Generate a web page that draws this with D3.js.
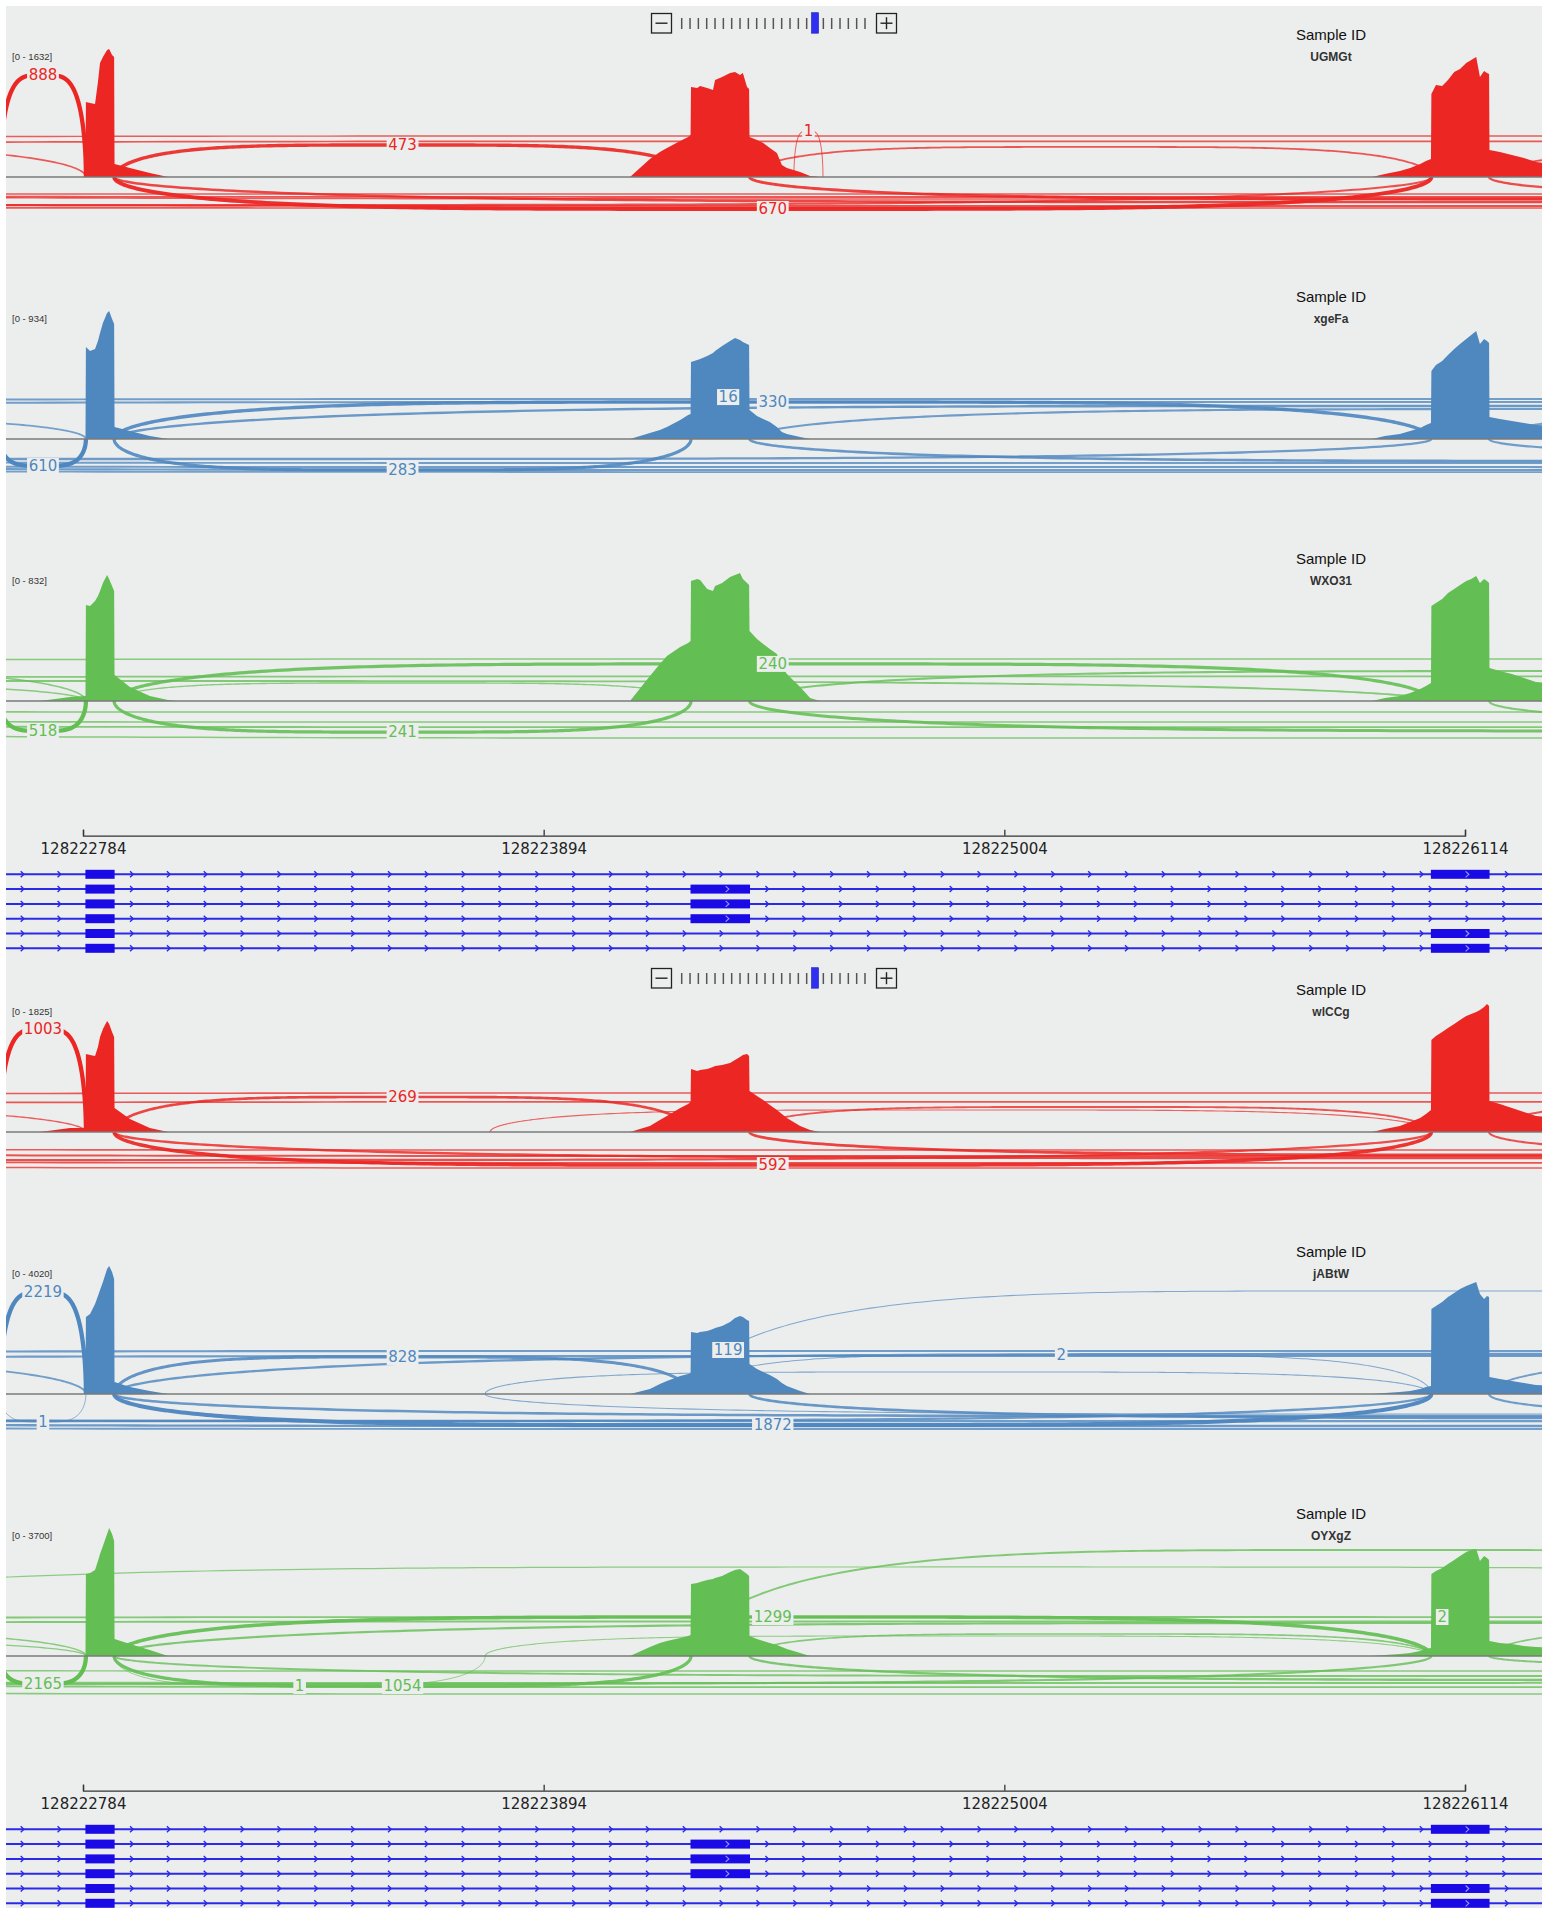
<!DOCTYPE html>
<html>
<head>
<meta charset="utf-8">
<script src="https://cdn.jsdelivr.net/npm/d3@7"></script>
<style>
  html, body { margin: 0; padding: 0; background: #fff; }
  svg { display: block; }
</style>
</head>
<body>
<div id="chart"></div>
<script>
'use strict';

// ---- data ----
var samples = ["UGMGt", "xgeFa", "WXO31", "wlCCg", "jABtW", "OYXgZ"];
var sampleRange = [1632, 934, 832, 1825, 4020, 3700];
var axisTicks = [128222784, 128223894, 128225004, 128226114];
var exons = [[128222791, 128222859], [128224249, 128224390], [128226033, 128226172]];
var transcriptSpan = [128222418, 128227800];
var transcripts = [[0, 2], [0, 1], [0, 1], [0, 1], [0, 2], [0, 2]];
var zoomSteps = 23, zoomCurrent = 16;

var exon1Pos = [128222680, 128222753, 128222790, 128222791, 128222801, 128222813, 128222820, 128222825, 128222832,
  128222842, 128222847, 128222854, 128222859, 128222860, 128222897, 128222945, 128222989, 128223013];
var exon1Cov = [
  [0, 0, 0, 956, 944, 931, 1211, 1454, 1530, 1619, 1632, 1556, 1530, 166, 115, 51, 0, 0],
  [0, 0, 0, 671, 642, 657, 715, 773, 846, 919, 934, 876, 839, 88, 58, 22, 0, 0],
  [0, 26, 33, 624, 618, 650, 683, 715, 767, 819, 793, 748, 715, 169, 91, 33, 7, 0],
  [0, 57, 57, 1112, 1098, 1084, 1212, 1355, 1469, 1583, 1540, 1426, 1355, 342, 185, 57, 0, 0],
  [0, 0, 0, 2419, 2513, 2827, 3078, 3267, 3518, 3926, 4020, 3832, 3612, 377, 220, 94, 0, 0],
  [0, 0, 0, 2371, 2400, 2486, 2746, 2949, 3180, 3527, 3700, 3527, 3325, 491, 347, 173, 0, 0]
];

var exon2Pos = [128224102, 128224150, 128224174, 128224191, 128224223, 128224242, 128224248, 128224249, 128224264,
  128224271, 128224288, 128224302, 128224307, 128224324, 128224343, 128224355, 128224367, 128224374, 128224384,
  128224389, 128224390, 128224408, 128224423, 128224439, 128224456, 128224468, 128224480, 128224512, 128224536, 128224560];
var exon2Cov = [
  [0, 230, 319, 370, 459, 510, 536, 1148, 1135, 1160, 1135, 1109, 1237, 1275, 1326, 1339, 1301, 1326, 1148, 1122, 510, 472, 434, 370, 306, 153, 115, 64, 13, 0],
  [0, 44, 66, 88, 139, 175, 182, 562, 576, 584, 606, 628, 642, 679, 715, 737, 722, 708, 693, 686, 212, 168, 146, 124, 88, 51, 36, 15, 0, 0],
  [0, 163, 241, 293, 351, 377, 390, 780, 793, 787, 728, 715, 748, 767, 806, 819, 832, 793, 767, 754, 455, 403, 371, 338, 306, 228, 176, 91, 20, 0],
  [0, 86, 171, 228, 342, 399, 428, 898, 870, 884, 898, 927, 941, 955, 984, 1027, 1070, 1098, 1112, 1084, 585, 513, 456, 385, 314, 257, 200, 86, 29, 0],
  [0, 157, 314, 408, 565, 628, 660, 1947, 1916, 1947, 1979, 2042, 2073, 2136, 2262, 2387, 2450, 2419, 2324, 2293, 942, 785, 691, 597, 471, 346, 251, 94, 0, 0],
  [0, 260, 376, 434, 520, 578, 607, 2082, 2110, 2139, 2197, 2226, 2255, 2313, 2428, 2486, 2515, 2457, 2371, 2313, 578, 491, 434, 376, 318, 260, 202, 87, 0, 0]
];

var exon3Pos = [128225890, 128225921, 128225957, 128225982, 128226006, 128226020, 128226032, 128226033, 128226044,
  128226059, 128226073, 128226088, 128226102, 128226117, 128226129, 128226141, 128226150, 128226160, 128226167,
  128226172, 128226173, 128226198, 128226227, 128226256, 128226285, 128226343];
var exon3Cov = [
  [0, 38, 77, 115, 166, 204, 230, 1058, 1173, 1160, 1237, 1339, 1377, 1454, 1492, 1530, 1275, 1352, 1326, 1313, 344, 319, 281, 242, 191, 153],
  [0, 22, 36, 58, 80, 102, 117, 496, 540, 569, 613, 657, 693, 730, 759, 788, 693, 730, 715, 701, 161, 146, 131, 117, 102, 95],
  [0, 20, 33, 52, 78, 98, 117, 618, 637, 663, 702, 728, 754, 780, 793, 813, 767, 793, 780, 767, 215, 195, 176, 150, 124, 111],
  [0, 43, 86, 143, 200, 257, 314, 1312, 1369, 1426, 1483, 1540, 1597, 1654, 1683, 1711, 1740, 1783, 1825, 1797, 442, 399, 342, 285, 228, 200],
  [0, 31, 63, 94, 157, 220, 251, 2670, 2764, 2890, 3047, 3172, 3298, 3392, 3455, 3518, 3141, 2984, 3078, 3047, 534, 471, 408, 346, 283, 251],
  [0, 29, 58, 87, 145, 202, 231, 2371, 2457, 2544, 2660, 2775, 2891, 3007, 3064, 3093, 2746, 2891, 2833, 2775, 434, 376, 347, 289, 260, 231]
];

// junctions: [from, to, reads, arc depth (coverage units, negative = below), label shown]
var junctionsUGMGt = [
  [128222584, 128222791, 888, 1300, 1],
  [128222859, 128224249, 473, 408, 1],
  [128224497, 128224567, 1, 586, 1],
  [128222859, 128226033, 670, -408, 1],
  [128224390, 128226033, 60, 383, 0],
  [128219000, 128231000, 20, 523, 0],
  [128219300, 128231300, 50, 455, 0],
  [128220000, 128222791, 40, 420, 0],
  [128226172, 128229000, 80, 383, 0],
  [128219000, 128230000, 30, -217, 0],
  [128220000, 128232000, 25, -280, 0],
  [128218800, 128231800, 60, -255, 0],
  [128219800, 128230500, 90, -370, 0],
  [128222859, 128229500, 200, -319, 0],
  [128224390, 128228500, 300, -280, 0],
  [128226172, 128229000, 150, -230, 0],
  [128219500, 128226033, 100, -357, 0],
  [128218000, 128231500, 40, -395, 0]
];
var junctionsXgeFa = [
  [128222584, 128222791, 610, -197, 1],
  [128222859, 128224249, 283, -226, 1],
  [128224288, 128224389, 16, 306, 1],
  [128222859, 128226033, 330, 270, 1],
  [128219000, 128231000, 60, 292, 0],
  [128219300, 128231300, 70, 270, 0],
  [128220000, 128222791, 40, 168, 0],
  [128222859, 128230000, 120, 241, 0],
  [128224390, 128229000, 80, 219, 0],
  [128226172, 128228500, 60, 182, 0],
  [128219000, 128231000, 50, -175, 0],
  [128218800, 128231800, 60, -205, 0],
  [128219800, 128230500, 80, -226, 0],
  [128218500, 128232000, 40, -241, 0],
  [128224390, 128229500, 150, -161, 0],
  [128219500, 128226033, 100, -146, 0],
  [128226172, 128229000, 80, -109, 0]
];
var junctionsWXO31 = [
  [128222584, 128222791, 518, -195, 1],
  [128222859, 128224249, 241, -202, 1],
  [128222859, 128226033, 240, 241, 1],
  [128220000, 128222791, 20, 221, 0],
  [128219000, 128231000, 15, 273, 0],
  [128219300, 128231300, 30, 160, 0],
  [128219500, 128222791, 15, 124, 0],
  [128222859, 128224249, 10, 117, 0],
  [128224390, 128229000, 60, 195, 0],
  [128219000, 128226033, 40, 130, 0],
  [128219000, 128231500, 20, -72, 0],
  [128218500, 128232000, 20, -137, 0],
  [128218800, 128231800, 40, -170, 0],
  [128220000, 128231000, 15, -241, 0],
  [128224390, 128229500, 200, -195, 0],
  [128226172, 128228500, 60, -117, 0]
];
var junctionsWlCCg = [
  [128222584, 128222791, 1003, 1469, 1],
  [128222859, 128224249, 269, 499, 1],
  [128222859, 128226033, 592, -471, 1],
  [128223765, 128226033, 5, 314, 0],
  [128219000, 128231000, 40, 556, 0],
  [128219300, 128231300, 60, 430, 0],
  [128219500, 128222791, 20, 371, 0],
  [128224390, 128226033, 80, 357, 0],
  [128226172, 128229000, 100, 513, 0],
  [128222859, 128229500, 200, -371, 0],
  [128224390, 128229000, 300, -328, 0],
  [128219500, 128226033, 150, -399, 0],
  [128226172, 128228500, 120, -285, 0],
  [128219000, 128231000, 40, -257, 0],
  [128218800, 128231800, 80, -440, 0],
  [128219800, 128230500, 100, -342, 0],
  [128218500, 128232000, 30, -513, 0]
];
var junctionsJABtW = [
  [128222584, 128222791, 2219, 3204, 1],
  [128222859, 128224249, 828, 1162, 1],
  [128224288, 128224389, 119, 1382, 1],
  [128222584, 128222791, 1, -879, 1],
  [128222859, 128226033, 1872, -974, 1],
  [128224249, 128226033, 2, 1225, 1],
  [128224249, 128227623, 3, 3235, 0],
  [128219000, 128231000, 300, 1351, 0],
  [128219300, 128231300, 300, 1195, 0],
  [128219500, 128222791, 200, 1131, 0],
  [128222859, 128230000, 400, 1256, 0],
  [128223753, 128226033, 5, 691, 0],
  [128223753, 128229000, 5, -628, 0],
  [128224390, 128229500, 600, -754, 0],
  [128219500, 128226033, 400, -848, 0],
  [128226172, 128228500, 300, -628, 0],
  [128218500, 128232000, 200, -1099, 0],
  [128218800, 128231800, 300, -850, 0],
  [128219800, 128230500, 400, -1005, 0],
  [128222859, 128229500, 500, -691, 0],
  [128226172, 128229000, 200, 1194, 0]
];
var junctionsOYXgZ = [
  [128222584, 128222791, 2165, -809, 1],
  [128222859, 128223753, 1, -867, 1],
  [128222859, 128224249, 1054, -867, 1],
  [128222859, 128226033, 1299, 1127, 1],
  [128226033, 128226085, 2, 1127, 1],
  [128224249, 128227623, 200, 3064, 0],
  [128221476, 128228512, 20, 2573, 0],
  [128219000, 128231000, 150, 1127, 0],
  [128219300, 128231300, 200, 1000, 0],
  [128219500, 128222791, 60, 809, 0],
  [128219200, 128222791, 30, 520, 0],
  [128222859, 128230000, 300, 954, 0],
  [128224390, 128226033, 100, 636, 0],
  [128223753, 128226033, 5, 578, 0],
  [128226172, 128228500, 100, 867, 0],
  [128224390, 128229500, 400, -694, 0],
  [128219500, 128226033, 300, -809, 0],
  [128226172, 128228500, 200, -289, 0],
  [128218500, 128232000, 80, -1099, 0],
  [128218800, 128231800, 150, -780, 0],
  [128219800, 128230500, 200, -900, 0],
  [128219000, 128231000, 60, -434, 0],
  [128222859, 128229500, 200, -578, 0]
];

var junctions = [junctionsUGMGt, junctionsXgeFa, junctionsWXO31, junctionsWlCCg, junctionsJABtW, junctionsOYXgZ];
var exonPos = [exon1Pos, exon2Pos, exon3Pos];
var exonCov = [exon1Cov, exon2Cov, exon3Cov];

// ---- layout ----
var width = 1554, height = 1908;
var bgColor = "#eceeee";
var colors = ["#eb2623", "#4f87bf", "#63be53"];
var viewLeft = 6, viewRight = 1542;
var viewOffsets = [0, 955];
var panelBase = [177, 439, 701];
var covHeight = 128;
var arcSteps = 240;
var geneBlue = "#2a2ae8", exonBlue = "#1a0be6";

var svg = d3.select("#chart").append("svg")
  .attr("width", width)
  .attr("height", height)
  .style("font-family", "'Liberation Sans', Arial, sans-serif");

svg.append("rect")
  .attr("x", viewLeft).attr("y", 6)
  .attr("width", viewRight - viewLeft).attr("height", height - 6)
  .attr("fill", bgColor);

var x = d3.scaleLinear()
  .domain([axisTicks[0], axisTicks[axisTicks.length - 1]])
  .range([83, 1465]);

var arcLine = d3.line();

function arcPoints(d, y) {
  var mid = (d[0] + d[1]) / 2, half = (d[1] - d[0]) / 2;
  return d3.range(arcSteps + 1).map(function(k) {
    var u = -Math.cos(Math.PI * k / arcSteps);
    return [x(mid + u * half), y(d[3] * Math.sqrt(Math.max(0, 1 - Math.pow(u, 4))))];
  });
}

function drawZoomControl(off) {
  var zx = d3.scaleLinear().domain([0, zoomSteps - 1]).range([681.7, 865]);
  var g = svg.append("g").attr("transform", "translate(0," + off + ")");

  g.append("rect").attr("x", 651.5).attr("y", 13.5).attr("width", 20).attr("height", 19.5)
    .attr("fill", "none").attr("stroke", "#222").attr("stroke-width", 1.3);
  g.append("line").attr("x1", 655.5).attr("x2", 667.5).attr("y1", 23.2).attr("y2", 23.2)
    .attr("stroke", "#222").attr("stroke-width", 1.4);

  g.selectAll("line.ztick")
    .data(d3.range(zoomSteps).filter(function(i) { return i !== zoomCurrent; }))
    .enter().append("line")
    .attr("class", "ztick")
    .attr("x1", function(i) { return zx(i); }).attr("x2", function(i) { return zx(i); })
    .attr("y1", 18).attr("y2", 29)
    .attr("stroke", "#555").attr("stroke-width", 1.5);

  g.append("rect").attr("x", zx(zoomCurrent) - 3.5).attr("y", 12.7).attr("width", 7).attr("height", 20.5)
    .attr("fill", "#2f2ff0").attr("stroke", "#1c1cb8").attr("stroke-width", 0.6);

  g.append("rect").attr("x", 876.5).attr("y", 13.5).attr("width", 20).attr("height", 19.5)
    .attr("fill", "none").attr("stroke", "#222").attr("stroke-width", 1.3);
  g.append("line").attr("x1", 880.5).attr("x2", 892.5).attr("y1", 23.2).attr("y2", 23.2)
    .attr("stroke", "#222").attr("stroke-width", 1.4);
  g.append("line").attr("x1", 886.5).attr("x2", 886.5).attr("y1", 17.2).attr("y2", 29.2)
    .attr("stroke", "#222").attr("stroke-width", 1.4);
}

function drawSample(i) {
  var view = Math.floor(i / 3), slot = i % 3;
  var base = viewOffsets[view] + panelBase[slot];
  var color = colors[slot];
  var y = d3.scaleLinear().domain([0, sampleRange[i]]).range([base, base - covHeight]);

  svg.append("clipPath").attr("id", "clip" + i)
    .append("rect")
    .attr("x", viewLeft).attr("y", base - 175)
    .attr("width", viewRight - viewLeft).attr("height", 260);

  var g = svg.append("g").attr("clip-path", "url(#clip" + i + ")");
  var maxReads = d3.max(junctions[i], function(d) { return d[2]; });

  g.selectAll("path.junction")
    .data(junctions[i])
    .enter().append("path")
    .attr("class", "junction")
    .attr("d", function(d) { return arcLine(arcPoints(d, y)); })
    .attr("fill", "none")
    .attr("stroke", color)
    .attr("stroke-width", function(d) { return 0.9 + 3.4 * Math.sqrt(d[2] / maxReads); })
    .attr("stroke-opacity", function(d) { return 0.68 + 0.32 * Math.sqrt(d[2] / maxReads); });

  var cov = [];
  exonPos.forEach(function(pos, e) {
    pos.forEach(function(p, k) { cov.push([p, exonCov[e][i][k]]); });
  });

  g.append("path")
    .datum(cov)
    .attr("d", d3.area()
      .x(function(d) { return x(d[0]); })
      .y0(base)
      .y1(function(d) { return y(d[1]); }))
    .attr("fill", color);

  g.append("line")
    .attr("x1", viewLeft).attr("x2", viewRight)
    .attr("y1", base).attr("y2", base)
    .attr("stroke", "#7a7a7a").attr("stroke-width", 1.5);

  var lab = g.selectAll("g.jlabel")
    .data(junctions[i].filter(function(d) { return d[4]; }))
    .enter().append("g")
    .attr("class", "jlabel")
    .attr("transform", function(d) {
      return "translate(" + x((d[0] + d[1]) / 2) + "," + y(d[3]) + ")";
    });

  lab.append("rect")
    .attr("x", function(d) { return -(String(d[2]).length * 9.6 + 3) / 2; })
    .attr("y", -8)
    .attr("width", function(d) { return String(d[2]).length * 9.6 + 3; })
    .attr("height", 16)
    .attr("fill", bgColor);

  lab.append("text")
    .attr("text-anchor", "middle")
    .attr("dy", "0.36em")
    .style("font-family", "'DejaVu Sans', sans-serif")
    .style("font-size", "15px")
    .attr("fill", color)
    .text(function(d) { return d[2]; });

  svg.append("text")
    .attr("x", 12).attr("y", base - 117)
    .style("font-size", "9.5px")
    .attr("fill", "#333")
    .text("[0 - " + sampleRange[i] + "]");

  svg.append("text")
    .attr("x", 1331).attr("y", base - 137.5)
    .attr("text-anchor", "middle")
    .style("font-size", "15px")
    .attr("fill", "#111")
    .text("Sample ID");

  svg.append("text")
    .attr("x", 1331).attr("y", base - 116)
    .attr("text-anchor", "middle")
    .style("font-size", "12px")
    .style("font-weight", "bold")
    .attr("fill", "#333")
    .text(samples[i]);
}

function drawAxis(off) {
  var axis = d3.axisBottom(x)
    .tickValues(axisTicks)
    .tickFormat(d3.format("d"))
    .tickSizeInner(-6)
    .tickSizeOuter(-6)
    .tickPadding(8);

  var ga = svg.append("g")
    .attr("transform", "translate(0," + (off + 835.7) + ")")
    .call(axis)
    .attr("font-family", "'DejaVu Sans', sans-serif")
    .attr("font-size", 15);

  ga.select(".domain").attr("stroke", "#333").attr("stroke-width", 1.3);
  ga.selectAll(".tick line").attr("stroke", "#333").attr("stroke-width", 1.3);
  ga.selectAll(".tick text").attr("fill", "#222");
}

function drawGenes(off) {
  var rowY = d3.scalePoint().domain(d3.range(transcripts.length)).range([off + 874.3, off + 948.3]);
  var g = svg.append("g");
  var x0 = Math.max(viewLeft, x(transcriptSpan[0])), x1 = Math.min(viewRight, x(transcriptSpan[1]));

  transcripts.forEach(function(tr, r) {
    var yy = rowY(r);
    g.append("line")
      .attr("x1", x0).attr("x2", x1).attr("y1", yy).attr("y2", yy)
      .attr("stroke", geneBlue).attr("stroke-width", 2);

    // intron chevrons, restarting after each exon
    var bounds = [x(transcriptSpan[0])];
    tr.forEach(function(e) { bounds.push(x(exons[e][0]), x(exons[e][1])); });
    bounds.push(x(transcriptSpan[1]));
    var marks = [];
    for (var s = 0; s < bounds.length; s += 2) {
      for (var p = bounds[s] + 17.5; p < bounds[s + 1] - 7; p += 36.85) {
        if (p > viewLeft + 2 && p < viewRight - 2) marks.push(p);
      }
    }
    g.selectAll(null).data(marks).enter().append("path")
      .attr("d", function(p) { return "M" + (p - 1.6) + "," + (yy - 3) + "L" + (p + 1.6) + "," + yy + "L" + (p - 1.6) + "," + (yy + 3); })
      .attr("fill", "none").attr("stroke", geneBlue).attr("stroke-width", 1.4);

    g.selectAll(null).data(tr).enter().append("rect")
      .attr("x", function(e) { return x(exons[e][0]) - 0.5; })
      .attr("y", yy - 4.5)
      .attr("width", function(e) { return x(exons[e][1]) - x(exons[e][0]) + 1; })
      .attr("height", 9)
      .attr("fill", exonBlue);

    g.selectAll(null).data(tr.filter(function(e) { return x(exons[e][1]) - x(exons[e][0]) > 40; }))
      .enter().append("path")
      .attr("d", function(e) {
        var p = (x(exons[e][0]) + x(exons[e][1])) / 2 + 7;
        return "M" + (p - 1.6) + "," + (yy - 3) + "L" + (p + 1.6) + "," + yy + "L" + (p - 1.6) + "," + (yy + 3);
      })
      .attr("fill", "none").attr("stroke", "#9a9aff").attr("stroke-width", 1.1);
  });
}

viewOffsets.forEach(function(off) {
  drawZoomControl(off);
  drawAxis(off);
  drawGenes(off);
});
samples.forEach(function(name, i) { drawSample(i); });
</script>
</body>
</html>
